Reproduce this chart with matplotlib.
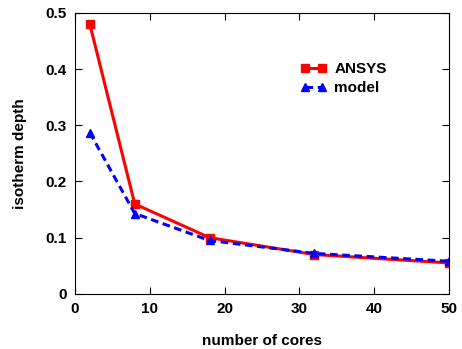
import matplotlib
matplotlib.use("Agg")
import matplotlib.pyplot as plt

plt.rcParams["font.family"] = ["Liberation Sans", "DejaVu Sans"]

cores = [2, 8, 18, 32, 50]
ansys = [0.48, 0.16, 0.10, 0.070, 0.055]
model = [0.287, 0.143, 0.095, 0.072, 0.058]

fig = plt.figure(figsize=(4.62, 3.49), dpi=100)
ax = fig.add_axes([0.162, 0.158, 0.810, 0.805])

ax.plot(cores, ansys, color="#ff0000", lw=2.2, marker="s", ms=6, label="ANSYS")
ax.plot(cores, model, color="#0000ff", lw=2.2, ls=(0, (2.5, 1.5)), marker="^", ms=6, label="model")

ax.set_xlim(0, 50)
ax.set_ylim(0, 0.5)
ax.set_xticks([0, 10, 20, 30, 40, 50])
ax.set_yticks([0, 0.1, 0.2, 0.3, 0.4, 0.5])
ax.set_yticklabels(["0", "0.1", "0.2", "0.3", "0.4", "0.5"])
ax.tick_params(direction="in", top=True, right=True, length=5, labelsize=11, pad=6)
for lab in ax.get_xticklabels() + ax.get_yticklabels():
    lab.set_fontweight("bold")

ax.set_xlabel("number of cores", fontsize=11, fontweight="bold", labelpad=13)
ax.set_ylabel("isotherm depth", fontsize=11, fontweight="bold", labelpad=13)

ax.legend(loc="upper left", bbox_to_anchor=(0.604, 0.825), frameon=False,
          handlelength=1.7, handletextpad=0.5, labelspacing=0.35, numpoints=2,
          borderaxespad=0, borderpad=0, prop={"weight": "bold", "size": 11})

fig.savefig("out.png", dpi=100)
